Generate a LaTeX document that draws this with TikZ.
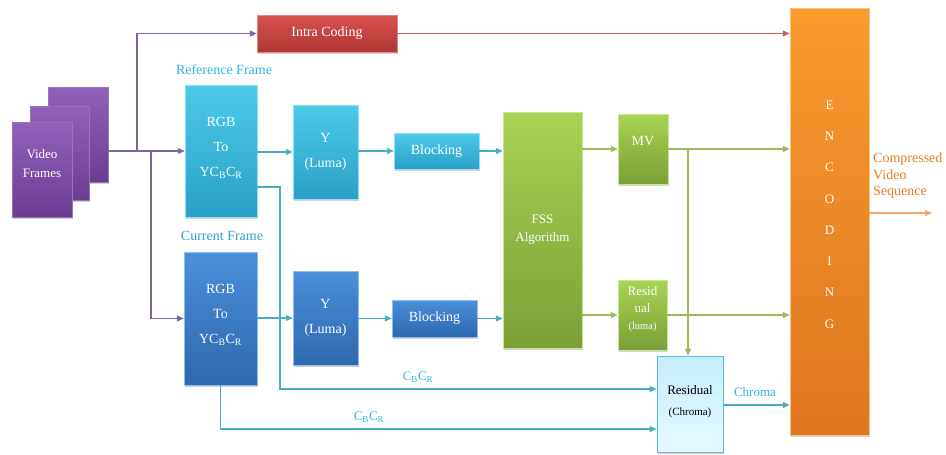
\documentclass[tikz,border=0pt]{standalone}
\usepackage{fontspec}
\setmainfont{Liberation Serif}
\usetikzlibrary{arrows.meta,shadows}

\definecolor{purpTop}{HTML}{9062BC}
\definecolor{purpBot}{HTML}{6A3C92}
\definecolor{purpLine}{HTML}{8064A2}
\definecolor{redTop}{HTML}{D9534F}
\definecolor{redBot}{HTML}{AE3633}
\definecolor{redLine}{HTML}{C8605C}
\definecolor{cyanTop}{HTML}{4CCBEA}
\definecolor{cyanBot}{HTML}{2A9FC6}
\definecolor{cyanLine}{HTML}{4BACC6}
\definecolor{blueTop}{HTML}{4A90DA}
\definecolor{blueBot}{HTML}{2D68AE}
\definecolor{greenTop}{HTML}{A9D354}
\definecolor{greenBot}{HTML}{7B9F36}
\definecolor{greenLine}{HTML}{9BBB59}
\definecolor{orangeTop}{HTML}{F99B2E}
\definecolor{orangeBot}{HTML}{DE7620}
\definecolor{orangeLine}{HTML}{F7A56A}
\definecolor{labelCyan}{HTML}{2EB4E6}
\definecolor{paleTop}{HTML}{C4EEFB}
\definecolor{paleBot}{HTML}{E6FAFF}
\definecolor{paleEdge}{HTML}{5CB8DC}

\begin{document}
\begin{tikzpicture}[x=1pt,y=-1pt,
  blk/.style={rectangle, inner sep=0pt, text=white, align=center,
    font=\fontsize{14}{25}\selectfont,
    drop shadow={opacity=0.35, shadow xshift=1.2pt, shadow yshift=-1.5pt}},
  purpbox/.style={blk, top color=purpTop, bottom color=purpBot, draw=purpBot!70!white, line width=0.5pt},
  redbox/.style={blk, top color=redTop, bottom color=redBot, draw=redTop!70!white, line width=0.5pt},
  cyanbox/.style={blk, top color=cyanTop, bottom color=cyanBot, draw=cyanTop!60!white, line width=0.5pt},
  bluebox/.style={blk, top color=blueTop, bottom color=blueBot, draw=blueTop!60!white, line width=0.5pt},
  greenbox/.style={blk, top color=greenTop, bottom color=greenBot, draw=greenTop!60!white, line width=0.5pt},
  orangebox/.style={blk, top color=orangeTop, bottom color=orangeBot, draw=orangeTop!60!white, line width=0.5pt},
  palebox/.style={blk, top color=paleTop, bottom color=paleBot, draw=paleEdge, line width=0.7pt, text=black},
  wtext/.style={text=white, align=center, inner sep=0pt},
  lbl/.style={text=labelCyan, inner sep=0pt, font=\fontsize{13}{15}\selectfont},
  conn/.style={line width=1.1pt, -{Triangle[length=7pt,width=6pt]}},
  plain/.style={line width=1.1pt},
]
\useasboundingbox (0,0) rectangle (946,455);

% stacked input frames
\node[purpbox, minimum width=60pt, minimum height=95pt] (vf3) at (78,134.5) {};
\node[purpbox, minimum width=59pt, minimum height=94pt] (vf2) at (59.5,153) {};
\node[purpbox, minimum width=60pt, minimum height=95pt] (vf1) at (42,169.5) {};
\node[wtext, font=\fontsize{13}{19}\selectfont] (vftxt) at (42,163.5) {Video\\Frames};

% intra path
\node[redbox, minimum width=140pt, minimum height=37pt] (intra) at (327,33.5) {Intra Coding};

% reference frame branch
\node[lbl, font=\fontsize{14}{16}\selectfont] (reflbl) at (224,70) {Reference Frame};
\node[cyanbox, minimum width=72pt, minimum height=132pt] (refrgb) at (221,151) {};
\node[wtext, font=\fontsize{14}{25}\selectfont] (refrgbtxt) at (221,148) {RGB\\To\\YC\textsubscript{B}C\textsubscript{R}};
\node[cyanbox, minimum width=65pt, minimum height=94pt] (refy) at (325.5,152) {Y\\(Luma)};
\node[cyanbox, minimum width=85pt, minimum height=36pt] (refblk) at (436.5,151) {Blocking};

% current frame branch
\node[lbl, font=\fontsize{14}{16}\selectfont, text=labelCyan!75!blueBot] (curlbl) at (222,236) {Current Frame};
\node[bluebox, minimum width=73pt, minimum height=133pt] (currgb) at (220.5,318.5) {};
\node[wtext, font=\fontsize{14}{25}\selectfont] (currgbtxt) at (220.5,315) {RGB\\To\\YC\textsubscript{B}C\textsubscript{R}};
\node[bluebox, minimum width=65pt, minimum height=94pt] (cury) at (325.5,318) {Y\\(Luma)};
\node[bluebox, minimum width=85pt, minimum height=37pt] (curblk) at (434.5,318.5) {Blocking};

% motion search and outputs
\node[greenbox, minimum width=79pt, minimum height=236pt, font=\fontsize{13}{18}\selectfont] (fss) at (542.5,230) {FSS\\Algorithm};
\node[greenbox, minimum width=50pt, minimum height=70pt] (mv) at (643,149) {};
\node[wtext, font=\fontsize{14}{16}\selectfont] (mvtxt) at (643,141) {MV};
\node[greenbox, minimum width=49pt, minimum height=70pt] (resl) at (642.5,315) {};
\node[wtext, font=\fontsize{13}{17}\selectfont] (resltxt) at (642.5,309.5) {Resid\\ual\\{\fontsize{10.5}{12}\selectfont(luma)}};

% chroma residual
\node[palebox, minimum width=66pt, minimum height=96pt] (resc) at (690,404) {};
\node[inner sep=0pt, align=center, font=\fontsize{13}{21}\selectfont] (resctxt) at (690,402) {Residual\\{\fontsize{11}{13}\selectfont(Chroma)}};

% entropy encoder
\node[orangebox, minimum width=79pt, minimum height=427pt] (enc) at (829.5,221.5) {};
\node[wtext, font=\fontsize{13}{31.3}\selectfont] (enctxt) at (829.5,214.5) {E\\N\\C\\O\\D\\I\\N\\G};

% splitting the input
\coordinate (j1) at (137,151);
\coordinate (j2) at (151,151);
\draw[plain, purpLine] (vf3.east |- refrgb.west) -- (j1);
\draw[conn, purpLine] (j1) -- (refrgb.west);
\draw[conn, purpLine] (j1) |- (intra.west);
\draw[conn, purpLine] (j2) |- (currgb.west);

\draw[conn, redLine] (intra.east) -- (enc.west |- intra.east);

% luma paths
\draw[conn, cyanLine] (refrgb.east |- refy.west) -- (refy.west);
\draw[conn, cyanLine] (refy.east |- refblk.west) -- (refblk.west);
\draw[conn, cyanLine] (refblk.east) -- (fss.west |- refblk.east);
\draw[conn, cyanLine] (currgb.east |- cury.west) -- (cury.west);
\draw[conn, cyanLine] (cury.east |- curblk.west) -- (curblk.west);
\draw[conn, cyanLine] (curblk.east) -- (fss.west |- curblk.east);

% chroma paths
\coordinate (c1) at (280,187);
\coordinate (c2) at (280,389);
\coordinate (c3) at (220.5,429);
\draw[conn, cyanLine] (refrgb.east |- c1) -- (c1) -- (c2) -- (resc.west |- c2);
\draw[conn, cyanLine] (currgb.south) -- (c3) -- (resc.west |- c3);
\node[lbl] (cb1) at (418,377) {C\textsubscript{B}C\textsubscript{R}};
\node[lbl] (cb2) at (369,417) {C\textsubscript{B}C\textsubscript{R}};

% motion vectors and residuals
\draw[conn, greenLine] (fss.east |- mv.west) -- (mv.west);
\draw[conn, greenLine] (fss.east |- resl.west) -- (resl.west);
\coordinate (j3) at (688,149);
\draw[conn, greenLine] (mv.east) -- (enc.west |- mv.east);
\draw[conn, greenLine] (j3) -- (j3 |- resc.north);
\draw[conn, greenLine] (resl.east) -- (enc.west |- resl.east);

\coordinate (chy) at (0,405);
\draw[conn, cyanLine] (resc.east |- chy) -- (enc.west |- chy);
\node[lbl] (chlbl) at (755,392) {Chroma};

% output stream
\coordinate (out) at (932,213);
\draw[conn, orangeLine] (enc.east |- out) -- (out);
\node[anchor=north west, inner sep=0pt, align=left, text=orangeBot!80!orangeTop, font=\fontsize{14}{16.5}\selectfont] (outlbl) at (873,153) {Compressed\\Video\\Sequence};
\end{tikzpicture}
\end{document}
